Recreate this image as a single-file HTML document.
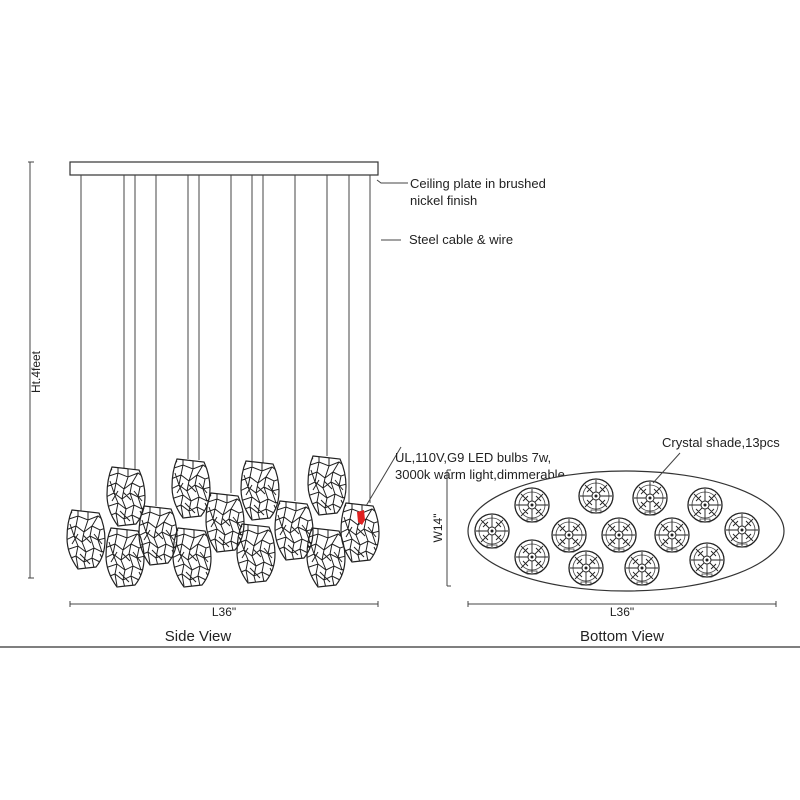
<!DOCTYPE html>
<html><head><meta charset="utf-8"><style>
html,body{margin:0;padding:0;background:#fff;}
svg{display:block;}
text{font-family:"Liberation Sans",sans-serif;fill:#222;}
</style></head><body>
<svg width="800" height="800" viewBox="0 0 800 800" xmlns="http://www.w3.org/2000/svg">
<defs>
<clipPath id="sc"><path d="M-14,-28 L13,-25 Q19,-12 19,2 Q19,18 10,29 L-8,31 Q-19,16 -19,0 Q-19,-16 -14,-28 Z"/></clipPath>
<g id="shade">
  <g clip-path="url(#sc)" stroke="#222" stroke-width="1" fill="none">
    <path d="M-20,-18 L-8,-22 L2,-18 L12,-22 L20,-16 M-20,-8 L-10,-12 L-2,-6 L6,-12 L14,-8 L20,-10 M-20,2 L-12,-2 L-4,4 L4,-2 L12,2 L20,0 M-20,12 L-8,8 L0,14 L8,10 L16,14 L20,12 M-20,22 L-10,18 L-2,24 L6,20 L14,24 M-8,-28 L-8,-22 L-10,-12 L-12,-2 L-8,8 L-10,18 L-8,30 M2,-26 L2,-18 L-2,-6 L-4,4 L0,14 L-2,24 L0,32 M12,-22 L6,-12 L4,-2 L8,10 L6,20 L8,30 M14,-8 L12,2 L16,14 M-14,-26 L-20,-18 M-3,-3 L5,5 M-14,6 L-8,-4 M8,-4 L16,6 M-6,16 L4,26 M-16,-14 L-12,-2 M14,16 L18,24"/>
  </g>
  <path d="M-14,-28 L13,-25 Q19,-12 19,2 Q19,18 10,29 L-8,31 Q-19,16 -19,0 Q-19,-16 -14,-28 Z" fill="none" stroke="#222" stroke-width="1.2"/>
</g>
<g id="bv">
  <circle r="17" fill="#fff" stroke="#222" stroke-width="1.3"/>
  <circle r="13" fill="none" stroke="#444" stroke-width="0.8"/>
  <circle r="4" fill="none" stroke="#222" stroke-width="1"/>
  <circle r="1.5" fill="#222"/>
  <path d="M0,-4 L0,-16 M0,4 L0,16 M-4,0 L-16,0 M4,0 L16,0 M3,-3 L11,-11 M-3,-3 L-11,-11 M3,3 L11,11 M-3,3 L-11,11 M-9,-4 L-4,-9 M9,4 L4,9 M-9,4 L-4,9 M9,-4 L4,-9" stroke="#222" stroke-width="0.9" fill="none"/>
  <path d="M-5,14 L5,14 L5,17 L-5,17 Z" fill="none" stroke="#333" stroke-width="0.7"/>
</g>
</defs>

<rect x="70" y="162" width="308" height="13" fill="#fff" stroke="#333" stroke-width="1.2"/>
<g stroke="#444" stroke-width="1">
<line x1="81" y1="175" x2="81" y2="511"/>
<line x1="124" y1="175" x2="124" y2="468"/>
<line x1="135" y1="175" x2="135" y2="470"/>
<line x1="156" y1="175" x2="156" y2="506"/>
<line x1="188" y1="175" x2="188" y2="459"/>
<line x1="199" y1="175" x2="199" y2="460"/>
<line x1="231" y1="175" x2="231" y2="493"/>
<line x1="252" y1="175" x2="252" y2="461"/>
<line x1="263" y1="175" x2="263" y2="463"/>
<line x1="295" y1="175" x2="295" y2="501"/>
<line x1="327" y1="175" x2="327" y2="456"/>
<line x1="349" y1="175" x2="349" y2="503"/>
<line x1="370" y1="175" x2="370" y2="503"/>
</g>
<use href="#shade" transform="translate(86,538)"/>
<use href="#shade" transform="translate(126,495)"/>
<use href="#shade" transform="translate(158,534)"/>
<use href="#shade" transform="translate(125,556)"/>
<use href="#shade" transform="translate(191,487)"/>
<use href="#shade" transform="translate(225,521)"/>
<use href="#shade" transform="translate(192,556)"/>
<use href="#shade" transform="translate(260,489)"/>
<use href="#shade" transform="translate(256,552)"/>
<use href="#shade" transform="translate(294,529)"/>
<use href="#shade" transform="translate(327,484)"/>
<use href="#shade" transform="translate(326,556)"/>
<use href="#shade" transform="translate(360,531)"/>
<path d="M357,512 L364,510 L365,520 L362,525 L358,522 Z" fill="#e02020"/>

<line x1="30" y1="162" x2="30" y2="578" stroke="#444" stroke-width="1"/>
<line x1="28" y1="162" x2="34" y2="162" stroke="#444"/>
<line x1="28" y1="578" x2="34" y2="578" stroke="#444"/>
<text font-size="12" transform="translate(40,372) rotate(-90)" text-anchor="middle">Ht.4feet</text>

<line x1="70" y1="604" x2="378" y2="604" stroke="#444"/>
<line x1="70" y1="601" x2="70" y2="607" stroke="#444"/>
<line x1="378" y1="601" x2="378" y2="607" stroke="#444"/>
<text x="224" y="616" font-size="12" text-anchor="middle">L36"</text>
<text x="198" y="641" font-size="15" text-anchor="middle">Side View</text>

<path d="M377,180 L381,183 L408,183" stroke="#444" fill="none"/>
<text x="410" y="188" font-size="13">Ceiling plate in brushed</text>
<text x="410" y="205" font-size="13">nickel finish</text>
<line x1="381" y1="240" x2="401" y2="240" stroke="#444"/>
<text x="409" y="244" font-size="13">Steel cable &amp; wire</text>
<line x1="401" y1="447" x2="366" y2="506" stroke="#444"/>
<text x="395" y="462" font-size="13">UL,110V,G9 LED bulbs 7w,</text>
<text x="395" y="479" font-size="13">3000k warm light,dimmerable</text>

<ellipse cx="626" cy="531" rx="158" ry="60" fill="#fff" stroke="#333" stroke-width="1.2"/>
<use href="#bv" transform="translate(492,531)"/>
<use href="#bv" transform="translate(532,505)"/>
<use href="#bv" transform="translate(532,557)"/>
<use href="#bv" transform="translate(596,496)"/>
<use href="#bv" transform="translate(569,535)"/>
<use href="#bv" transform="translate(586,568)"/>
<use href="#bv" transform="translate(619,535)"/>
<use href="#bv" transform="translate(650,498)"/>
<use href="#bv" transform="translate(642,568)"/>
<use href="#bv" transform="translate(672,535)"/>
<use href="#bv" transform="translate(705,505)"/>
<use href="#bv" transform="translate(707,560)"/>
<use href="#bv" transform="translate(742,530)"/>
<line x1="680" y1="453" x2="653" y2="483" stroke="#444"/>
<text x="662" y="447" font-size="13">Crystal shade,13pcs</text>

<line x1="447" y1="470" x2="447" y2="586" stroke="#444"/>
<line x1="447" y1="470" x2="451" y2="470" stroke="#444"/>
<line x1="447" y1="586" x2="451" y2="586" stroke="#444"/>
<text font-size="12" transform="translate(442,528) rotate(-90)" text-anchor="middle">W14"</text>

<line x1="468" y1="604" x2="776" y2="604" stroke="#444"/>
<line x1="468" y1="601" x2="468" y2="607" stroke="#444"/>
<line x1="776" y1="601" x2="776" y2="607" stroke="#444"/>
<text x="622" y="616" font-size="12" text-anchor="middle">L36"</text>
<text x="622" y="641" font-size="15" text-anchor="middle">Bottom View</text>

<line x1="0" y1="647" x2="800" y2="647" stroke="#333" stroke-width="1.3"/>
</svg>
</body></html>
